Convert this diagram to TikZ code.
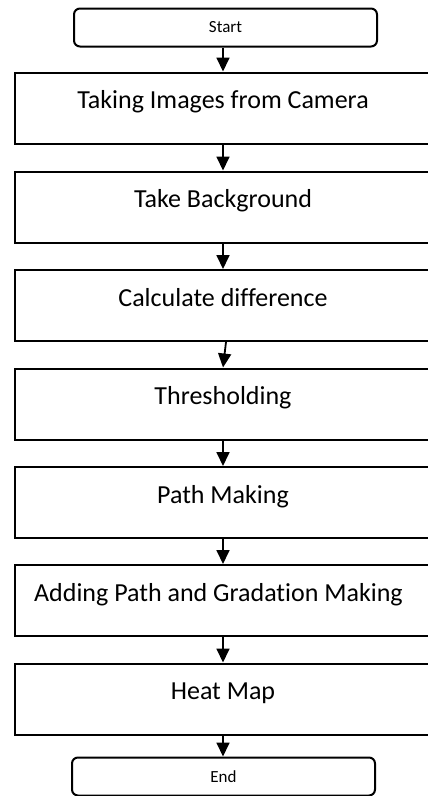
\documentclass[tikz,border=0pt]{standalone}
\usepackage{fontspec}
\setmainfont{Carlito}[Ligatures=NoCommon]
\usetikzlibrary{arrows.meta}
\tikzset{
  stepbox/.style={draw, line width=2pt, minimum width=416pt, minimum height=71pt,
    inner sep=0pt, text height=13pt, text depth=12pt, font=\fontsize{26}{30}\selectfont},
  terminal/.style={draw, rounded corners=6pt, line width=2pt, minimum width=303pt,
    minimum height=38pt, font=\fontsize{17}{19}\selectfont},
  flow/.style={line width=1.8pt, -{Triangle[width=13pt,length=14pt]}}
}
\begin{document}
\begin{tikzpicture}[x=1pt,y=-1pt]
\useasboundingbox (0,0) rectangle (428,796);
\clip (0,0) rectangle (428,796);
% terminals
\node[terminal] (start) at (225.5,27.5) {Start};
\node[terminal] (end) at (223.5,776.5) {End};
% process steps
\node[stepbox] (take) at (223,108) {Taking Images from Camera};
\node[stepbox] (back) at (223,207) {Take Background};
\node[stepbox] (diff) at (223,305.5) {Calculate difference};
\node[stepbox] (thresh) at (223,404) {Thresholding};
\node[stepbox] (path) at (223,502.5) {Path Making};
\node[stepbox] (grad) at (223,600.5) {\hspace*{-9pt}Adding Path and Gradation Making};
\node[stepbox] (heat) at (223,699) {Heat Map};
% arrows
\draw[flow] (start.south -| take.north) -- (take.north);
\draw[flow] (take) -- (back);
\draw[flow] (back) -- (diff);
\draw[flow] ([xshift=3pt]diff.south) -- (thresh.north);
\draw[flow] (thresh) -- (path);
\draw[flow] (path) -- (grad);
\draw[flow] (grad) -- (heat);
\draw[flow] (heat.south) -- (heat.south |- end.north);
\end{tikzpicture}
\end{document}
